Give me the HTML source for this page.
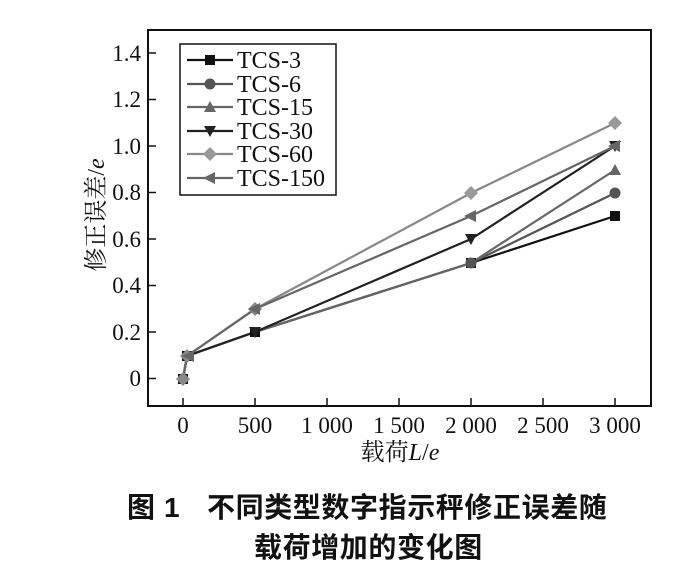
<!DOCTYPE html>
<html><head><meta charset="utf-8"><style>
body{margin:0;background:#fff;width:691px;height:575px;overflow:hidden}
svg{display:block}
.t{font-family:"Liberation Serif",serif;font-size:23px;fill:#111}
.c{font-family:"Liberation Sans","Noto Sans CJK SC",sans-serif;font-weight:bold;font-size:28px;fill:#111;letter-spacing:0.6px}
</style></head><body>
<svg width="691" height="575" viewBox="0 0 691 575">
<defs>
<rect id="sq" x="-5" y="-5" width="10" height="10"/>
<circle id="ci" r="5.5"/>
<path id="tu" d="M0,-6 L6,5 L-6,5Z"/>
<path id="td" d="M0,6 L6,-5 L-6,-5Z"/>
<path id="di" d="M0,-7 L7,0 L0,7 L-7,0Z"/>
<path id="tl" d="M-7,0 L5,-6 L5,6Z"/>
</defs>
<rect x="148" y="30" width="503" height="376" fill="none" stroke="#111" stroke-width="2"/>
<g stroke="#111" stroke-width="1.5">
<line x1="148" y1="53" x2="156" y2="53"/><line x1="148" y1="99.5" x2="156" y2="99.5"/><line x1="148" y1="146" x2="156" y2="146"/><line x1="148" y1="192.5" x2="156" y2="192.5"/><line x1="148" y1="239" x2="156" y2="239"/><line x1="148" y1="285.5" x2="156" y2="285.5"/><line x1="148" y1="332" x2="156" y2="332"/><line x1="148" y1="378.5" x2="156" y2="378.5"/>
<line x1="183" y1="406" x2="183" y2="398"/><line x1="255" y1="406" x2="255" y2="398"/><line x1="327" y1="406" x2="327" y2="398"/><line x1="399" y1="406" x2="399" y2="398"/><line x1="471" y1="406" x2="471" y2="398"/><line x1="543" y1="406" x2="543" y2="398"/><line x1="615" y1="406" x2="615" y2="398"/>
</g>
<g class="t" text-anchor="end">
<text x="141" y="61">1.4</text><text x="141" y="107">1.2</text><text x="141" y="154">1.0</text><text x="141" y="200">0.8</text><text x="141" y="247">0.6</text><text x="141" y="293">0.4</text><text x="141" y="340">0.2</text><text x="141" y="386">0</text>
</g>
<g class="t" text-anchor="middle">
<text x="183" y="433">0</text><text x="255" y="433">500</text><text x="327" y="433">1 000</text><text x="399" y="433">1 500</text><text x="471" y="433">2 000</text><text x="543" y="433">2 500</text><text x="615" y="433">3 000</text>
</g>
<text x="400" y="460" text-anchor="middle" style="font-family:'Liberation Serif','Noto Serif CJK SC',serif;font-size:24px;fill:#111">载荷<tspan font-style="italic">L</tspan>/<tspan font-style="italic">e</tspan></text>
<text transform="translate(104,215) rotate(-90)" text-anchor="middle" style="font-family:'Liberation Serif','Noto Serif CJK SC',serif;font-size:24px;fill:#111">修正误差/<tspan font-style="italic">e</tspan></text>
<g fill="none" stroke-width="2.2">
<polyline stroke="#111" points="183,379 187,356 255,332 471,263 615,216"/>
<polyline stroke="#555" points="183,379 187,356 255,332 471,263 615,193"/>
<polyline stroke="#666" points="183,379 187,356 255,332 471,263 615,170"/>
<polyline stroke="#222" points="183,379 187,356 255,332 471,239 615,146"/>
<polyline stroke="#888" points="183,379 187,356 255,309 471,193 615,123"/>
<polyline stroke="#666" points="183,379 187,356 255,309 471,216 615,146"/>
</g>
<g fill="#333">
<use href="#sq" x="183" y="379" fill="#111"/><use href="#sq" x="187" y="356" fill="#111"/><use href="#sq" x="255" y="332" fill="#111"/><use href="#sq" x="471" y="263" fill="#111"/><use href="#sq" x="615" y="216" fill="#111"/>
<use href="#ci" x="615" y="193" fill="#555"/><use href="#ci" x="471" y="263" fill="#555"/>
<use href="#tu" x="615" y="170" fill="#666"/>
<use href="#td" x="255" y="332" fill="#222"/><use href="#td" x="471" y="239" fill="#222"/><use href="#td" x="615" y="146" fill="#222"/>
<use href="#di" x="183" y="379" fill="#888"/><use href="#di" x="187" y="356" fill="#888"/><use href="#di" x="255" y="309" fill="#888"/><use href="#di" x="471" y="193" fill="#999"/><use href="#di" x="615" y="123" fill="#999"/>
<use href="#tl" x="189" y="356" fill="#666"/><use href="#tl" x="255" y="309" fill="#666"/><use href="#tl" x="471" y="216" fill="#666"/><use href="#tl" x="615" y="146" fill="#666"/>
</g>
<rect x="180" y="44" width="156" height="151" fill="#fff" stroke="#111" stroke-width="1.5"/>
<g stroke-width="2.2">
<line x1="187" y1="60" x2="233" y2="60" stroke="#111"/><line x1="187" y1="84" x2="233" y2="84" stroke="#555"/><line x1="187" y1="107" x2="233" y2="107" stroke="#666"/><line x1="187" y1="131" x2="233" y2="131" stroke="#222"/><line x1="187" y1="154" x2="233" y2="154" stroke="#888"/><line x1="187" y1="178" x2="233" y2="178" stroke="#666"/>
</g>
<use href="#sq" x="210" y="60" fill="#111"/><use href="#ci" x="210" y="84" fill="#555"/><use href="#tu" x="210" y="107" fill="#666"/><use href="#td" x="210" y="131" fill="#222"/><use href="#di" x="210" y="154" fill="#999"/><use href="#tl" x="210" y="178" fill="#666"/>
<g class="t" style="font-size:24px">
<text x="237" y="68">TCS-3</text><text x="237" y="92">TCS-6</text><text x="237" y="115">TCS-15</text><text x="237" y="139">TCS-30</text><text x="237" y="162">TCS-60</text><text x="237" y="186">TCS-150</text>
</g>
<text class="c" x="127" y="517">图 1</text>
<text class="c" x="207" y="517">不同类型数字指示秤修正误差随</text>
<text class="c" x="254" y="557">载荷增加的变化图</text>
</svg>
</body></html>
